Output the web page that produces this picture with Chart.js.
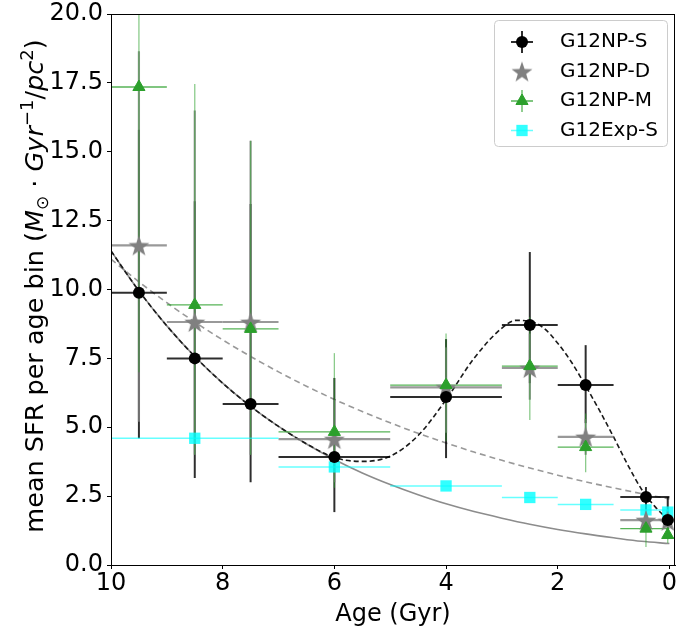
<!DOCTYPE html>
<html>
<head>
<meta charset="utf-8">
<script src="https://cdn.jsdelivr.net/npm/chart.js@4.4.1/dist/chart.umd.min.js"></script>
<style>
  html, body { margin: 0; padding: 0; background: #fff; }
</style>
</head>
<body>
<canvas id="sfrChart" width="678" height="628"></canvas>
<script>
const FONT = "'DejaVu Sans', sans-serif";

// age bins (Gyr)
const ages = [9.5, 8.5, 7.5, 6, 4, 2.5, 1.5, 0.42, 0.03];
const binLo = [9, 8, 7, 5, 3, 2, 1, 0, 0];
const binHi = [10, 9, 8, 7, 5, 3, 2, 0.88, 0.06];

// G12NP-S
const sfrS = [9.88, 7.5, 5.84, 3.92, 6.1, 8.71, 6.53, 2.47, 1.63];
const sfrSLo = [4.6, 3.16, 3.0, 1.92, 3.88, 6.6, 5.15, 2.0, 0.94];
const sfrSHi = [15.8, 13.2, 13.1, 6.79, 8.2, 11.36, 7.98, 2.83, 2.47];

// G12NP-D
const sfrD = [11.6, 8.82, 8.82, 4.57, 6.45, 7.15, 4.65, 1.63, 1.6];
const sfrDLo = [5.2, 4.0, 4.0, 3.0, 4.8, 6.0, 4.0, 1.3, 1.2];
const sfrDHi = [18.65, 16.5, 15.4, 6.0, 7.9, 8.4, 5.3, 2.0, 2.0];

// G12NP-M
const sfrM = [17.35, 9.44, 8.57, 4.83, 6.53, 7.22, 4.28, 1.32, 1.09];
const sfrMLo = [7.0, 4.0, 4.0, 2.8, 4.5, 5.26, 3.37, 0.65, 0.8];
const sfrMHi = [21, 17.46, 15.4, 7.69, 8.4, 9.0, 5.5, 1.6, 1.45];

// G12Exp-S
const agesExp = [8.5, 6, 4, 2.5, 1.5, 0.42, 0.03];
const binLoExp = [7, 5, 3, 2, 1, 0, 0];
const binHiExp = [10, 7, 5, 3, 2, 0.88, 0.06];
const sfrExp = [4.6, 3.56, 2.87, 2.45, 2.2, 2.0, 1.92];

// fitted curves
const curveAges = [10, 9.5, 9, 8.5, 8, 7.5, 7, 6.5, 6, 5.5, 5, 4.5, 4, 3.5, 3, 2.5, 2, 1.5, 1, 0.5, 0];
const expSolid = [11.4, 9.95, 8.68, 7.57, 6.6, 5.76, 5.03, 4.39, 3.83, 3.34, 2.92, 2.55, 2.22, 1.94, 1.7, 1.48, 1.29, 1.13, 0.99, 0.86, 0.78];
const expDashed = [11.1, 10.28, 9.52, 8.82, 8.17, 7.57, 7.01, 6.49, 6.01, 5.57, 5.16, 4.78, 4.43, 4.1, 3.8, 3.52, 3.26, 3.02, 2.8, 2.59, 2.4];
const burstAges = [10, 9.5, 9, 8.5, 8, 7.5, 7, 6.5, 6, 5.5, 5, 4.5, 4, 3.5, 3, 2.75, 2.5, 2.25, 2, 1.75, 1.5, 1.25, 1, 0.75, 0.5, 0.25, 0];
const burstFit = [11.4, 9.95, 8.68, 7.57, 6.6, 5.76, 5.03, 4.4, 3.9, 3.76, 3.95, 4.7, 6.0, 7.5, 8.6, 8.88, 8.85, 8.6, 8.05, 7.35, 6.5, 5.6, 4.65, 3.65, 2.75, 2.1, 1.6];

const xTicks = [0, 2, 4, 6, 8, 10];
const yTicks = [0, 2.5, 5, 7.5, 10, 12.5, 15, 17.5, 20];

const labels = ['G12NP-S', 'G12NP-D', 'G12NP-M', 'G12Exp-S'];

const GREEN = '#2ca02c';
const CYAN = 'rgba(0,255,255,0.8)';
const BAR_S = 'rgba(0,0,0,0.82)';
const BAR_D = 'rgba(128,128,128,0.8)';
const BAR_M = 'rgba(44,160,44,0.8)';
const BAR_MV = 'rgba(44,160,44,0.55)';
const BAR_E = 'rgba(0,255,255,0.6)';

// filled five point star for the D markers
function makeStar(r, fill) {
    const c = document.createElement('canvas');
    const s = Math.ceil(2 * r + 2);
    c.width = s; c.height = s;
    const g = c.getContext('2d');
    g.translate(s / 2, s / 2 + r * 0.1);
    g.beginPath();
    for (let i = 0; i < 10; i++) {
        const rad = i % 2 === 0 ? r : r * 0.4;
        const a = -Math.PI / 2 + i * Math.PI / 5;
        const px = Math.cos(a) * rad, py = Math.sin(a) * rad;
        i === 0 ? g.moveTo(px, py) : g.lineTo(px, py);
    }
    g.closePath();
    g.fillStyle = fill;
    g.fill();
    return c;
}
const starImg = makeStar(11, '#808080');

const pts = (xs, ys) => xs.map((x, i) => ({ x: x, y: ys[i] }));

// error bars drawn through the scales, under the markers
const errorBars = {
    id: 'errorBars',
    beforeDatasetDraw(chart, args) {
        if (args.index !== 3) return;
        const { ctx, chartArea: a, scales: { x, y } } = chart;
        ctx.save();
        ctx.beginPath();
        ctx.rect(a.left, a.top, a.right - a.left, a.bottom - a.top);
        ctx.clip();
        const bars = (xs, ys, xl, xh, yl, yh, color, vColor, w) => {
            ctx.lineWidth = w;
            xs.forEach((v, i) => {
                const px = x.getPixelForValue(v), py = y.getPixelForValue(ys[i]);
                ctx.strokeStyle = color;
                ctx.beginPath();
                ctx.moveTo(x.getPixelForValue(xl[i]), py);
                ctx.lineTo(x.getPixelForValue(xh[i]), py);
                ctx.stroke();
                if (yl) {
                    ctx.strokeStyle = vColor;
                    ctx.beginPath();
                    ctx.moveTo(px, y.getPixelForValue(yl[i]));
                    ctx.lineTo(px, y.getPixelForValue(yh[i]));
                    ctx.stroke();
                }
            });
        };
        bars(ages, sfrS, binLo, binHi, sfrSLo, sfrSHi, BAR_S, BAR_S, 2);
        bars(ages, sfrD, binLo, binHi, sfrDLo, sfrDHi, BAR_D, BAR_D, 2.2);
        bars(ages, sfrM, binLo, binHi, sfrMLo, sfrMHi, BAR_M, BAR_MV, 1.3);
        bars(agesExp, sfrExp, binLoExp, binHiExp, null, null, BAR_E, BAR_E, 1.5);
        ctx.restore();
    }
};

// frame, titles and legend box
const decorations = {
    id: 'decorations',
    afterDraw(chart) {
        const { ctx, chartArea: a } = chart;
        ctx.save();
        ctx.strokeStyle = '#000';
        ctx.lineWidth = 1;
        ctx.strokeRect(a.left + 0.5, a.top + 0.5, a.right - a.left - 1, a.bottom - a.top);

        // x title
        ctx.fillStyle = '#000';
        ctx.font = '24px ' + FONT;
        ctx.textAlign = 'center';
        ctx.textBaseline = 'alphabetic';
        ctx.fillText('Age (Gyr)', (a.left + a.right) / 2, 621);

        // y title with math parts
        const parts = [
            { t: 'mean SFR per age bin (', f: '25.5px ' + FONT, dy: 0 },
            { t: 'M', f: 'italic 25.5px ' + FONT, dy: 0 },
            { t: '\u2299', f: '17px ' + FONT, dy: 5 },
            { t: ' \u00b7 ', f: '25.5px ' + FONT, dy: 0 },
            { t: 'Gyr', f: 'italic 25.5px ' + FONT, dy: 0 },
            { t: '\u22121', f: '18px ' + FONT, dy: -10 },
            { t: '/', f: '25.5px ' + FONT, dy: 0 },
            { t: 'pc', f: 'italic 25.5px ' + FONT, dy: 0 },
            { t: '2', f: '18px ' + FONT, dy: -10 },
            { t: ')', f: '25.5px ' + FONT, dy: 0 }
        ];
        let total = 0;
        parts.forEach(p => { ctx.font = p.f; p.w = ctx.measureText(p.t).width; total += p.w; });
        ctx.translate(43, 286);
        ctx.rotate(-Math.PI / 2);
        ctx.textAlign = 'left';
        let cx = -total / 2;
        parts.forEach(p => { ctx.font = p.f; ctx.fillText(p.t, cx, p.dy); cx += p.w; });
        ctx.restore();

        // legend
        ctx.save();
        const bx = 494, by = 20, bw = 173, bh = 126;
        ctx.beginPath();
        ctx.roundRect(bx + 0.5, by + 0.5, bw, bh, 4);
        ctx.fillStyle = 'rgba(255,255,255,0.8)';
        ctx.fill();
        ctx.strokeStyle = '#cccccc';
        ctx.lineWidth = 1;
        ctx.stroke();
        const rows = [42, 71.5, 101, 130.5];
        const mx = 522;
        ctx.font = '20px ' + FONT;
        ctx.textBaseline = 'middle';
        ctx.textAlign = 'left';
        rows.forEach((ry, i) => {
            ctx.fillStyle = '#000';
            ctx.fillText(labels[i], 560, ry);
        });
        // S: cross + circle
        ctx.strokeStyle = BAR_S; ctx.lineWidth = 2;
        ctx.beginPath();
        ctx.moveTo(mx - 11, rows[0]); ctx.lineTo(mx + 11, rows[0]);
        ctx.moveTo(mx, rows[0] - 11); ctx.lineTo(mx, rows[0] + 11);
        ctx.stroke();
        ctx.fillStyle = '#000';
        Chart.helpers.drawPoint(ctx, { pointStyle: 'circle', radius: 6, borderWidth: 0 }, mx, rows[0]);
        // D: star
        ctx.drawImage(starImg, mx - starImg.width / 2, rows[1] - starImg.height / 2);
        // M: thin cross + triangle
        ctx.strokeStyle = BAR_M; ctx.lineWidth = 1.3;
        ctx.beginPath();
        ctx.moveTo(mx - 11, rows[2]); ctx.lineTo(mx + 11, rows[2]);
        ctx.moveTo(mx, rows[2] - 11); ctx.lineTo(mx, rows[2] + 11);
        ctx.stroke();
        ctx.fillStyle = GREEN; ctx.strokeStyle = GREEN; ctx.lineWidth = 1;
        Chart.helpers.drawPoint(ctx, { pointStyle: 'triangle', radius: 7, borderWidth: 1 }, mx, rows[2]);
        // Exp: horizontal bar + square
        ctx.strokeStyle = BAR_E; ctx.lineWidth = 1.5;
        ctx.beginPath();
        ctx.moveTo(mx - 11, rows[3]); ctx.lineTo(mx + 11, rows[3]);
        ctx.stroke();
        ctx.fillStyle = CYAN; ctx.strokeStyle = CYAN;
        Chart.helpers.drawPoint(ctx, { pointStyle: 'rect', radius: 8, borderWidth: 0 }, mx, rows[3]);
        ctx.restore();
    }
};

new Chart(document.getElementById('sfrChart'), {
    type: 'scatter',
    data: {
        datasets: [
            {
                label: labels[0],
                data: pts(ages, sfrS),
                pointStyle: 'circle',
                pointRadius: 6,
                backgroundColor: '#000',
                borderColor: '#000',
                borderWidth: 0,
                order: 1
            },
            {
                label: labels[1],
                data: pts(ages, sfrD),
                pointStyle: starImg,
                order: 3
            },
            {
                label: labels[2],
                data: pts(ages, sfrM),
                pointStyle: 'triangle',
                pointRadius: 7,
                backgroundColor: GREEN,
                borderColor: GREEN,
                borderWidth: 1,
                order: 2
            },
            {
                label: labels[3],
                data: pts(agesExp, sfrExp),
                pointStyle: 'rect',
                pointRadius: 8,
                backgroundColor: CYAN,
                borderColor: CYAN,
                borderWidth: 0,
                order: 4
            },
            {
                label: 'exp',
                data: pts(curveAges, expSolid),
                showLine: true,
                pointRadius: 0,
                borderColor: '#8c8c8c',
                borderWidth: 1.6,
                cubicInterpolationMode: 'monotone',
                order: 10
            },
            {
                label: 'exp2',
                data: pts(curveAges, expDashed),
                showLine: true,
                pointRadius: 0,
                borderColor: '#999999',
                borderWidth: 1.6,
                borderDash: [6, 4],
                cubicInterpolationMode: 'monotone',
                order: 10
            },
            {
                label: 'burst',
                data: pts(burstAges, burstFit),
                showLine: true,
                pointRadius: 0,
                borderColor: '#1a1a1a',
                borderWidth: 1.6,
                borderDash: [5, 3],
                cubicInterpolationMode: 'monotone',
                order: 9
            }
        ]
    },
    options: {
        responsive: false,
        animation: false,
        devicePixelRatio: 1,
        layout: { autoPadding: false, padding: { top: 14, right: 3, left: 0, bottom: 0 } },
        plugins: {
            legend: { display: false },
            tooltip: { enabled: false }
        },
        scales: {
            x: {
                type: 'linear',
                min: -0.1,
                max: 10,
                reverse: true,
                afterBuildTicks: s => { s.ticks = xTicks.map(v => ({ value: v })); },
                afterFit: s => { s.height = 63; s.paddingLeft = 0; s.paddingRight = 0; },
                ticks: {
                    font: { family: FONT, size: 24 },
                    color: '#000',
                    padding: 0,
                    maxRotation: 0,
                    callback: v => String(v)
                },
                grid: { drawOnChartArea: false, drawTicks: true, tickLength: 4, color: '#000' },
                border: { color: '#000', width: 1 }
            },
            y: {
                min: 0,
                max: 20,
                afterBuildTicks: s => { s.ticks = yTicks.map(v => ({ value: v })); },
                afterFit: s => { s.width = 111; s.paddingTop = 0; s.paddingBottom = 0; },
                ticks: {
                    font: { family: FONT, size: 24 },
                    color: '#000',
                    padding: 4,
                    callback: v => v.toFixed(1)
                },
                grid: { drawOnChartArea: false, drawTicks: true, tickLength: 4, color: '#000' },
                border: { color: '#000', width: 1 }
            }
        }
    },
    plugins: [errorBars, decorations]
});
</script>
</body>
</html>
